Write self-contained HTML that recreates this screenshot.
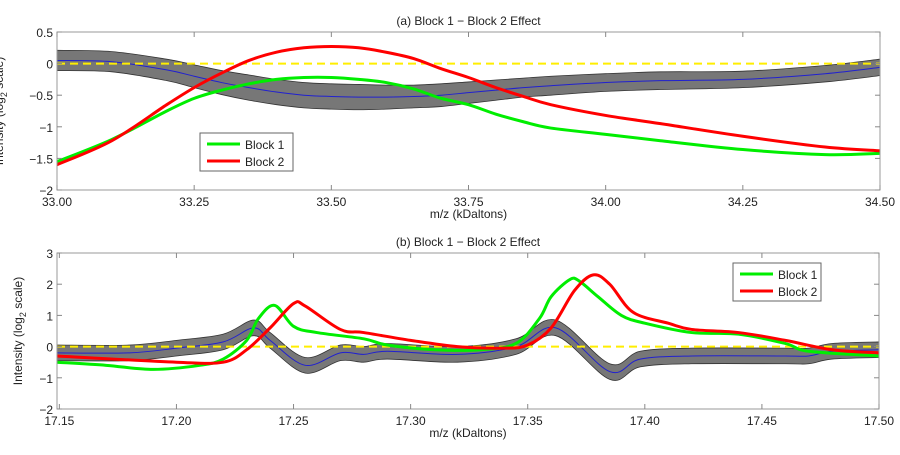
<!DOCTYPE html>
<html><head><meta charset="utf-8"><style>
body{margin:0;background:#fff;width:900px;height:450px;overflow:hidden}
svg{font-family:"Liberation Sans",Arial,sans-serif}
</style></head><body>
<svg id="c" width="900" height="450"></svg>
<script>
// ---- panel (a) data ----
const aX=[33.0,33.1,33.2,33.25,33.3,33.35,33.4,33.45,33.5,33.55,33.6,33.65,33.7,33.75,33.8,33.85,33.9,34.0,34.1,34.25,34.4,34.5];
const aG=[-1.55,-1.2,-0.75,-0.55,-0.42,-0.32,-0.25,-0.22,-0.22,-0.25,-0.3,-0.4,-0.55,-0.65,-0.8,-0.92,-1.02,-1.12,-1.22,-1.36,-1.44,-1.42];
const aR=[-1.6,-1.22,-0.65,-0.38,-0.15,0.05,0.18,0.25,0.27,0.25,0.18,0.08,-0.08,-0.22,-0.38,-0.52,-0.65,-0.82,-0.95,-1.15,-1.32,-1.38];
const aM=[0.05,0.03,-0.1,-0.2,-0.3,-0.38,-0.45,-0.5,-0.52,-0.53,-0.53,-0.52,-0.5,-0.46,-0.42,-0.38,-0.35,-0.3,-0.27,-0.25,-0.16,-0.06];
const aW=[0.16,0.16,0.17,0.18,0.19,0.2,0.2,0.2,0.2,0.2,0.19,0.18,0.18,0.17,0.16,0.15,0.15,0.14,0.14,0.13,0.13,0.13];
const aXT=["33.00","33.25","33.50","33.75","34.00","34.25","34.50"];
const aYT=["0.5","0","−0.5","−1","−1.5","−2"];
// ---- panel (b) data ----
const bGX=[17.149,17.17,17.19,17.21,17.22,17.23,17.235,17.242,17.25,17.26,17.28,17.29,17.31,17.33,17.345,17.355,17.36,17.368,17.372,17.38,17.39,17.40,17.42,17.44,17.46,17.47,17.5];
const bG=[-0.5,-0.6,-0.73,-0.6,-0.4,0.2,0.9,1.32,0.65,0.45,0.25,0.05,-0.1,-0.1,0.1,0.9,1.6,2.15,2.1,1.6,1.0,0.75,0.45,0.4,0.1,-0.15,-0.3];
const bRX=[17.149,17.2,17.22,17.23,17.24,17.25,17.255,17.27,17.28,17.3,17.32,17.34,17.35,17.36,17.37,17.378,17.385,17.395,17.41,17.42,17.44,17.46,17.48,17.5];
const bR=[-0.3,-0.5,-0.5,-0.1,0.6,1.38,1.3,0.55,0.45,0.2,0.0,-0.05,0.05,0.6,1.8,2.3,2.0,1.1,0.75,0.55,0.45,0.2,-0.1,-0.2];
const bMX=[17.149,17.18,17.2,17.22,17.233,17.24,17.255,17.27,17.28,17.29,17.32,17.345,17.362,17.385,17.398,17.42,17.46,17.47,17.48,17.5];
const bM=[-0.2,-0.2,-0.05,0.15,0.6,0.2,-0.6,-0.2,-0.25,-0.15,-0.25,0.0,0.6,-0.8,-0.4,-0.3,-0.3,-0.3,-0.15,-0.1];
const bXT=["17.15","17.20","17.25","17.30","17.35","17.40","17.45","17.50"];
const bYT=["3","2","1","0","−1","−2"];

const NS="http://www.w3.org/2000/svg", svg=document.getElementById('c');
function mk(t,a,p){const e=document.createElementNS(NS,t);for(const k in a)e.setAttribute(k,a[k]);(p||svg).appendChild(e);return e;}
function smooth(pts){let d="M"+pts[0][0]+","+pts[0][1];for(let i=0;i<pts.length-1;i++){const p0=pts[i-1]||pts[i],p1=pts[i],p2=pts[i+1],p3=pts[i+2]||p2;
d+=" C"+(p1[0]+(p2[0]-p0[0])/6)+","+(p1[1]+(p2[1]-p0[1])/6)+" "+(p2[0]-(p3[0]-p1[0])/6)+","+(p2[1]-(p3[1]-p1[1])/6)+" "+p2[0]+","+p2[1];}return d;}
function num(s){return parseFloat(s.replace("−","-"));}

function panel(o){
  const sx=v=>o.L+(v-o.x0)/(o.x1-o.x0)*(o.R-o.L), sy=v=>o.B-(v-o.y0)/(o.y1-o.y0)*(o.B-o.T);
  const g=mk('g',{});
  const clip=mk('clipPath',{id:o.name+'-clip'},g);mk('rect',{x:o.L,y:o.T,width:o.R-o.L,height:o.B-o.T},clip);
  const pg=mk('g',{'clip-path':'url(#'+o.name+'-clip)'},g);
  const up=o.mx.map((x,i)=>[sx(x),sy(o.m[i]+o.w[i])]), lo=o.mx.map((x,i)=>[sx(x),sy(o.m[i]-o.w[i])]).reverse();
  const band=mk('path',{d:smooth(up)+" L"+smooth(lo).slice(1)+" Z",fill:'#777',stroke:'#333','stroke-width':0.8},pg);
  
  const mean=mk('path',{d:smooth(o.mx.map((x,i)=>[sx(x),sy(o.m[i])])),fill:'none',stroke:'#2020d0','stroke-width':1},pg);
  
  const z=mk('line',{x1:o.L,x2:o.R,y1:sy(0),y2:sy(0),stroke:'#ffee00','stroke-width':2,'stroke-dasharray':'8,5'},pg);
  
  const gl=mk('path',{d:smooth(o.gx.map((x,i)=>[sx(x),sy(o.g[i])])),fill:'none',stroke:'#00ee00','stroke-width':3},pg);
  
  const rl=mk('path',{d:smooth(o.rx.map((x,i)=>[sx(x),sy(o.r[i])])),fill:'none',stroke:'#ff0000','stroke-width':3},pg);
  
  const fr=mk('rect',{x:o.L,y:o.T,width:o.R-o.L,height:o.B-o.T,fill:'none',stroke:'#999','stroke-width':1},g);
  
  o.xt.forEach(t=>{const x=sx(num(t));
    mk('line',{x1:x,x2:x,y1:o.B,y2:o.B-5,stroke:'#888'},g);mk('line',{x1:x,x2:x,y1:o.T,y2:o.T+5,stroke:'#888'},g);
    const tx=mk('text',{x:x,y:o.B+16,'font-size':12,'text-anchor':'middle',fill:'#222'},g);tx.textContent=t;
    });
  o.yt.forEach(t=>{const y=sy(num(t));
    mk('line',{x1:o.L,x2:o.L+5,y1:y,y2:y,stroke:'#888'},g);mk('line',{x1:o.R,x2:o.R-5,y1:y,y2:y,stroke:'#888'},g);
    const tx=mk('text',{x:o.L-4,y:y+5,'font-size':12,'text-anchor':'end',fill:'#222'},g);tx.textContent=t;
    });
  const ti=mk('text',{x:(o.L+o.R)/2,y:o.T-7,'font-size':12,'text-anchor':'middle',fill:'#222'},g);ti.textContent=o.title;
  
  const xl=mk('text',{x:(o.L+o.R)/2,y:o.B+28,'font-size':12,'text-anchor':'middle',fill:'#222'},g);xl.textContent='m/z (kDaltons)';
  
  const yl=mk('text',{x:0,y:0,'font-size':12,'text-anchor':'middle',fill:'#222',transform:'translate('+o.ylx+','+o.yly+') rotate(-90)'},g);
  yl.innerHTML='Intensity (log<tspan font-size="9" dy="4">2</tspan><tspan dy="-4"> scale)</tspan>';
  
  const lg=mk('g',{},g);
  mk('rect',{x:o.lgx,y:o.lgy,width:o.lgw,height:38,fill:'#fff',stroke:'#666'},lg);
  [['Block 1','#00ee00'],['Block 2','#ff0000']].forEach((e,i)=>{const y=o.lgy+11+i*17;
    mk('line',{x1:o.lgx+7,x2:o.lgx+40,y1:y,y2:y,stroke:e[1],'stroke-width':3},lg);
    const t=mk('text',{x:o.lgx+45,y:y+5,'font-size':12,fill:'#222'},lg);t.textContent=e[0];
    });
}
panel({name:'panel-a',L:57,R:880,T:32,B:190,x0:33.0,x1:34.5,y0:-2,y1:0.5,mx:aX,m:aM,w:aW,gx:aX,g:aG,rx:aX,r:aR,
  xt:aXT,yt:aYT,title:'(a) Block 1 − Block 2 Effect',ylx:3,yly:111,lgx:200,lgy:133,lgw:93});
panel({name:'panel-b',L:57,R:879,T:253,B:409,x0:17.149,x1:17.50,y0:-2,y1:3,mx:bMX,m:bM,w:bMX.map(()=>0.25),gx:bGX,g:bG,rx:bRX,r:bR,
  xt:bXT,yt:bYT,title:'(b) Block 1 − Block 2 Effect',ylx:22,yly:331,lgx:733,lgy:263,lgw:88});
</script>
</body></html>
